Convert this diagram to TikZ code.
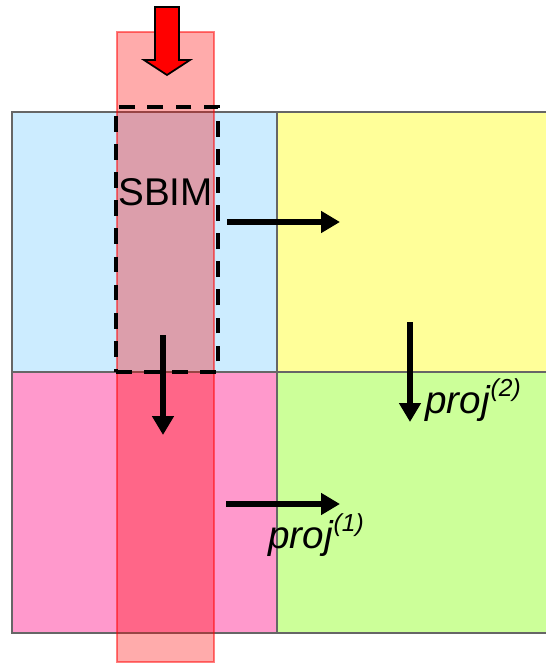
\documentclass[tikz,border=0pt]{standalone}
\usepackage{fontspec}
\setmainfont{Liberation Sans}
\usepackage{tikz}
\usetikzlibrary{positioning, arrows.meta}

\definecolor{cellblue}{HTML}{CCECFF}
\definecolor{cellyellow}{HTML}{FFFF99}
\definecolor{cellpink}{HTML}{FF99CC}
\definecolor{cellgreen}{HTML}{CCFF99}

\newcommand{\projsup}[1]{\textit{proj}\raisebox{0.42em}{\fontsize{14}{16}\selectfont\textit{(#1)}}}

\begin{document}
\begin{tikzpicture}[
    x=0.02cm, y=-0.02cm,
    cell/.style={draw=black!60, line width=0.7pt, inner sep=0pt, outer sep=0pt, anchor=north west},
    strip/.style={fill=red, fill opacity=0.33, draw=red, draw opacity=0.5, line width=0.8pt, inner sep=0pt, outer sep=0pt, anchor=north west, minimum width=1.94cm, minimum height=12.6cm},
    window/.style={draw=black, dash pattern=on 9pt off 7pt, line width=2pt, inner sep=0pt, outer sep=0pt, anchor=north west, minimum width=2.04cm, minimum height=5.3cm},
    proj/.style={-{Triangle[length=0.38cm, width=0.42cm]}, line width=3.2pt},
    lbl/.style={inner sep=0pt, anchor=base west, font=\fontsize{22}{26}\selectfont}
]
\useasboundingbox (0,0) rectangle (546,664);

% the four blocks
\node[cell, fill=cellblue, minimum width=5.3cm, minimum height=5.2cm] (topleft) at (12,112) {};
\node[cell, fill=cellyellow, minimum width=5.4cm, minimum height=5.2cm] (topright) at (277,112) {};
\node[cell, fill=cellpink, minimum width=5.3cm, minimum height=5.22cm] (botleft) at (12,372) {};
\node[cell, fill=cellgreen, minimum width=5.4cm, minimum height=5.22cm] (botright) at (277,372) {};

% column strip and window
\node[strip] (column) at (117,32) {};
\node[window] (sbimbox) at (116,107) {};

% input arrow
\filldraw[fill=red, draw=black, line width=1pt]
    (155,7) -- (179,7) -- (179,60) -- (190,60) -- (167,75) -- (144,60) -- (155,60) -- cycle;

\node[lbl] (sbim) at (118,205) {SBIM};

% projections
\coordinate (r1s) at (227,222);
\coordinate (r1e) at (340,222);
\coordinate (d1s) at (163,335);
\coordinate (d1e) at (163,435);
\coordinate (d2s) at (410,322);
\coordinate (d2e) at (410,422);
\coordinate (r2s) at (226,504);
\coordinate (r2e) at (340,504);

\draw[proj] (r1s) -- (r1e);
\draw[proj] (d1s) -- (d1e);
\draw[proj] (d2s) -- (d2e);
\draw[proj] (r2s) -- (r2e);

\node[lbl] (proj2) at (425,413) {\projsup{2}};
\node[lbl] (proj1) at (268,548) {\projsup{1}};
\end{tikzpicture}
\end{document}
